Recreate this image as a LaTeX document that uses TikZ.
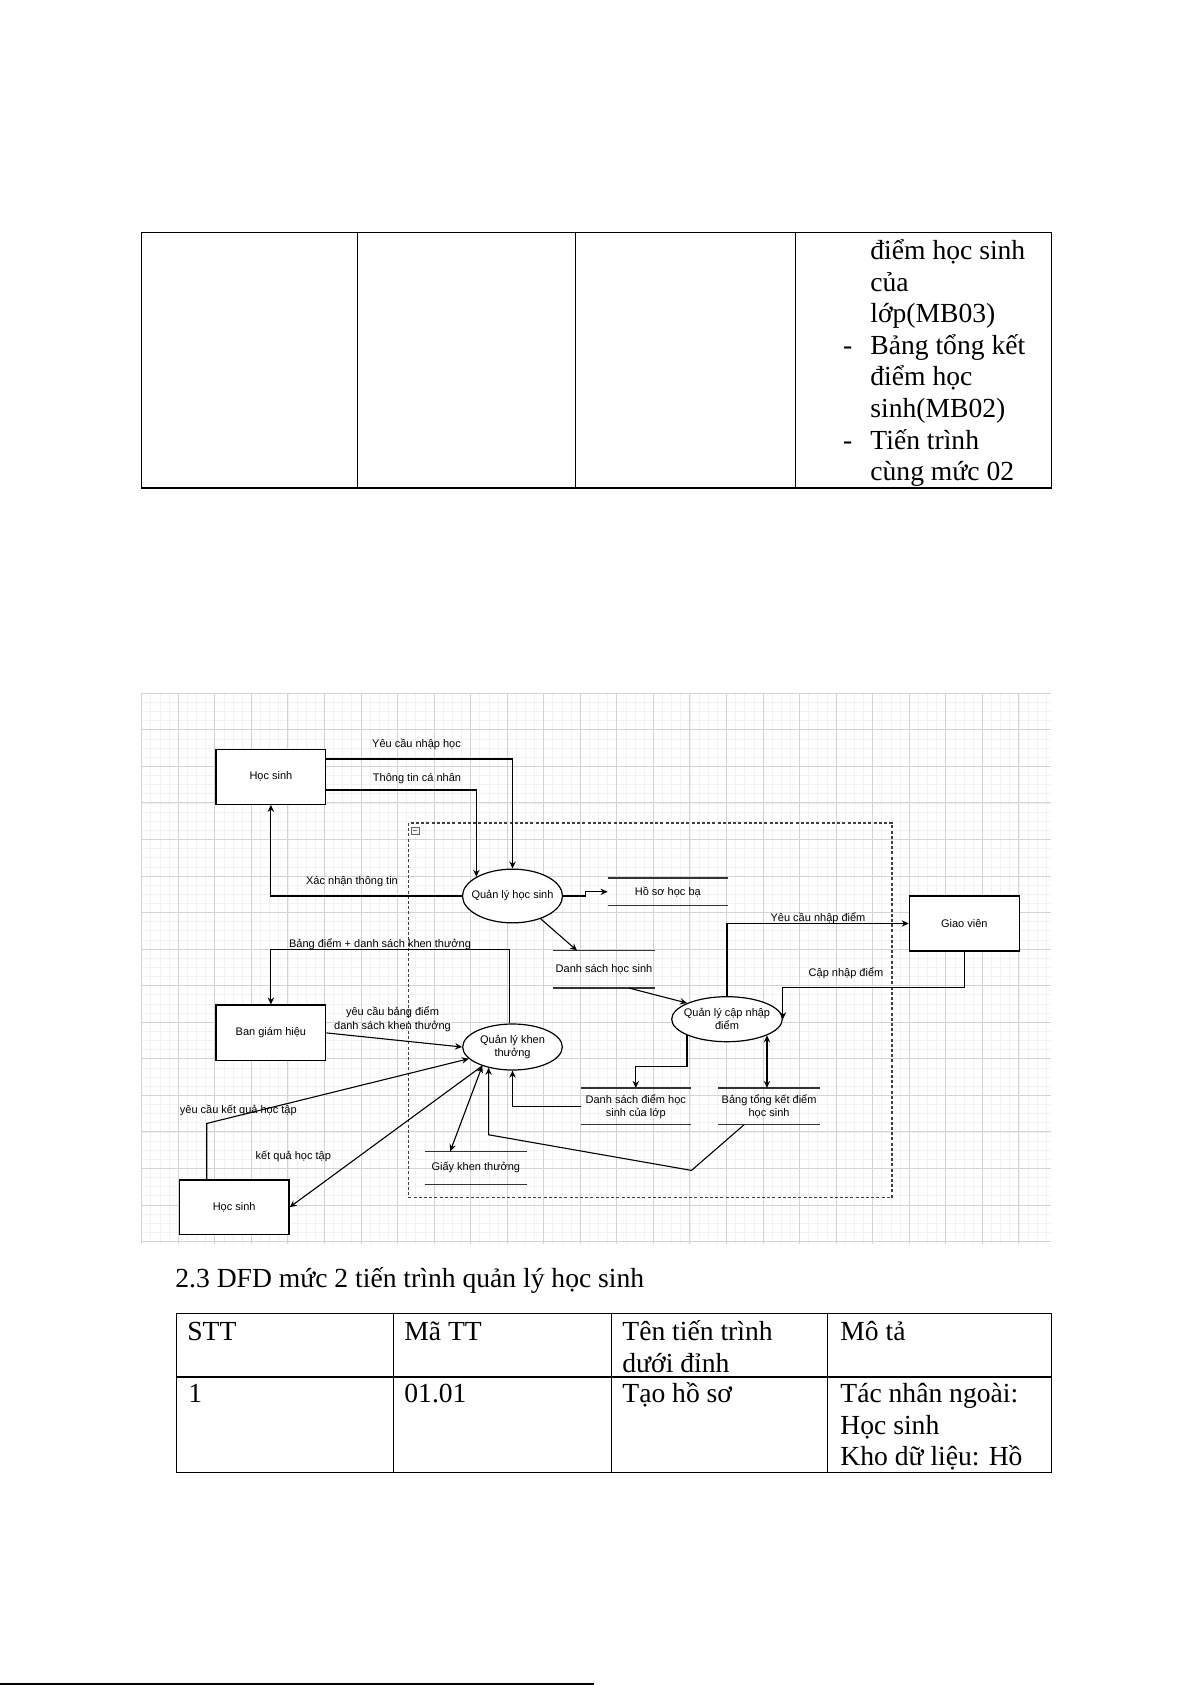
\documentclass[tikz,border=0pt]{standalone}
\usepackage{fontspec}
\setmainfont{Liberation Serif}
\newfontfamily\diafont{Liberation Sans}
\usetikzlibrary{calc, positioning, shapes.geometric, arrows.meta}
\newcommand{\cellstrut}{\rule{0pt}{14pt}}

\tikzset{
  ent/.style={draw, fill=white, line width=0.6pt, minimum width=54.85pt, minimum height=27.5pt, inner sep=0pt, font=\diafont\fontsize{5.5}{6.6}\selectfont},
  proc/.style={draw, ellipse, fill=white, line width=0.6pt, inner xsep=-3pt, inner ysep=0pt, align=center, font=\diafont\fontsize{5.5}{6.6}\selectfont},
  store/.style={inner sep=0pt, align=center, font=\diafont\fontsize{5.5}{6.6}\selectfont},
  storeline/.style={line width=0.6pt, draw=black!80},
  flow/.style={-{Stealth[length=3.5pt,width=3.2pt]}, line width=0.55pt},
  both/.style={{Stealth[length=3.5pt,width=3.2pt]}-{Stealth[length=3.5pt,width=3.2pt]}, line width=0.55pt},
  lbl/.style={inner sep=0pt, font=\diafont\fontsize{5.5}{6.7}\selectfont},
  grp/.style={draw=black!75, line width=0.6pt, dash pattern=on 1.5pt off 1.1pt},
  icon/.style={draw=black!60, line width=0.4pt},
  minorgrid/.style={draw=black!5, line width=0.4pt},
  majorgrid/.style={draw=black!17, line width=0.5pt},
  tab/.style={line width=0.6pt},
  cell/.style={anchor=north west, inner sep=0pt, align=left, font={\fontsize{13.8}{15.8}\selectfont\lineskiplimit=-20pt}}
}

\begin{document}
\begin{tikzpicture}[x=0.5pt, y=-0.5pt]
\useasboundingbox (0,0) rectangle (1191,1685);

% end of the table from the page before
\draw[tab] (141.5,232.5) rectangle (1051.5,488);
\draw[tab] (357.5,232.5) -- (357.5,488) (575.5,232.5) -- (575.5,488) (795.5,232.5) -- (795.5,488);
\node[cell] (desc) at (870,231) {\cellstrut điểm học sinh\\ của\\ lớp(MB03)\\ \llap{-\hspace{9pt}}Bảng tổng kết\\ điểm học\\ sinh(MB02)\\ \llap{-\hspace{9pt}}Tiến trình\\ cùng mức 02};

% grid of the drawing
\foreach \k in {0,...,99} \draw[minorgrid] ({141.7+\k*9.1375},693.3) -- ({141.7+\k*9.1375},1243.5);
\foreach \k in {0,...,60} \draw[minorgrid] (141.7,{693.3+\k*9.1375}) -- (1051.4,{693.3+\k*9.1375});
\foreach \k in {0,...,24} \draw[majorgrid] ({141.7+\k*36.55},693.3) -- ({141.7+\k*36.55},1243.5);
\foreach \k in {0,...,15} \draw[majorgrid] (141.7,{693.3+\k*36.55}) -- (1051.4,{693.3+\k*36.55});

% process group
\draw[grp] (408.5,823) rectangle (892,1197.5);
\draw[icon, fill=black!5] (411.8,827.3) rectangle (418.9,834.3);
\draw[icon] (413.3,830.8) -- (417.4,830.8);

% external entities
\node[ent] (hsA) at (270.9,776.8) {Học sinh};
\node[ent, minimum height=27.85pt] (bgh) at (270.9,1032.9) {Ban giám hiệu};
\node[ent, minimum height=27.15pt] (hsB) at (234.2,1207.2) {Học sinh};
\node[ent, minimum width=55pt] (gv) at (964.3,923.5) {Giao viên};

% processes
\node[proc, minimum width=50pt, minimum height=26.85pt] (qlhs) at (512.5,896) {Quản lý học sinh};
\node[proc, minimum width=55.3pt, minimum height=22.5pt] (qlcn) at (727,1019.2) {Quản lý cập nhập\\ điểm};
\node[proc, minimum width=49.8pt, minimum height=23pt] (qlkt) at (512.5,1047) {Quản lý khen\\ thưởng};

% data stores
\node[store, minimum width=59.85pt, minimum height=13.5pt] (hsb) at (667.8,891.8) {Hồ sơ học bạ};
\node[store, minimum width=51pt, minimum height=18.35pt] (dshs) at (604,969.3) {Danh sách học sinh};
\node[store, minimum width=54.85pt, minimum height=18pt] (dsd) at (635.8,1106.3) {Danh sách điểm học\\ sinh của lớp};
\node[store, minimum width=50.65pt, minimum height=18pt, right=13.5pt of dsd] (btk) {Bảng tổng kết điểm\\ học sinh};
\node[store, minimum width=50.85pt, minimum height=16.15pt] (gkt) at (475.8,1167.8) {Giấy khen thưởng};
\draw[storeline] (hsb.north west) -- (hsb.north east) (hsb.south west) -- (hsb.south east);
\draw[storeline] (dshs.north west) -- (dshs.north east) (dshs.south west) -- (dshs.south east);
\draw[storeline] (dsd.north west) -- (dsd.north east) (dsd.south west) -- (dsd.south east);
\draw[storeline] (btk.north west) -- (btk.north east) (btk.south west) -- (btk.south east);
\draw[storeline] (gkt.north west) -- (gkt.north east) (gkt.south west) -- (gkt.south east);

% flows
\draw[flow] ([yshift=8.9pt]hsA.east) -| (qlhs.north);
\draw[flow] ([yshift=-6.6pt]hsA.east) -| (qlhs.152);
\draw[flow] (qlhs.west) -| (hsA.south);
\draw[flow] (qlhs.east) -- ++(22,0) |- (hsb.west);
\draw[flow] (qlhs.-39) -- ([xshift=12.2pt]dshs.north west);
\draw[flow] ([xshift=38.2pt]dshs.south west) -- (qlcn.158);
\draw[flow] (qlcn.north) |- (gv.west);
\draw[flow] (gv.south) -- ++(0,36.3) -| (qlcn.east);
\draw[flow] (qlcn.202) -- ++(0,30.7) -| (dsd.north);
\draw[both] (qlcn.-22) -- (qlcn.-22 |- btk.north);
\draw[flow] (dsd.west) -| (qlkt.south);
\draw[flow] ([xshift=-12.5pt]btk.south) -- ++(-52.6,45.7) -- ($(qlkt.221)+(0,67)$) -- (qlkt.221);
\draw[both] (qlkt.212) -- ([xshift=12.85pt]gkt.north west);
\draw[flow] (qlkt.212) -- (hsB.east);
\draw[flow] (bgh.east) -- (qlkt.west);
\draw[flow] (qlkt.98) -- ++(0,-74) -| (bgh.north);
\draw[flow] ([xshift=-13.75pt]hsB.north) -- ++(0,-56) -- (qlkt.195);

% flow labels
\node[lbl] (lYCNH) at (416.5,744) {Yêu cầu nhập học};
\node[lbl] (lTTCN) at (417,779) {Thông tin cá nhân};
\node[lbl] (lXNTT) at (352,881.5) {Xác nhận thông tin};
\node[lbl] (lBD) at (380,944) {Bảng điểm + danh sách khen thưởng};
\node[lbl, align=center] (lYCBD) at (392.5,1019) {yêu cầu bảng điểm\\ danh sách khen thưởng};
\node[lbl] (lYCND) at (818,917.7) {Yêu cầu nhập điểm};
\node[lbl] (lCND) at (846,973.3) {Cập nhập điểm};
\node[lbl] (lYCKQ) at (238.3,1110.7) {yêu cầu kết quả học tập};
\node[lbl] (lKQ) at (293.3,1156) {kết quả học tập};

% caption and next table
\node[anchor=base west, inner sep=0pt, font=\fontsize{13.8}{15.8}\selectfont] (cap) at (175,1287) {2.3 DFD mức 2 tiến trình quản lý học sinh};
\draw[tab] (176.3,1313.7) rectangle (1051.4,1472.8);
\draw[tab] (176.3,1377) -- (1051.4,1377);
\draw[tab] (393.5,1313.7) -- (393.5,1472.8) (611.7,1313.7) -- (611.7,1472.8) (827.8,1313.7) -- (827.8,1472.8);
\node[cell] (h1) at (187,1312) {\cellstrut STT};
\node[cell] (h2) at (404,1312) {\cellstrut Mã TT};
\node[cell] (h3) at (622,1312) {\cellstrut Tên tiến trình\\ dưới đỉnh};
\node[cell] (h4) at (840,1312) {\cellstrut Mô tả};
\node[cell] (r1) at (188,1374) {\cellstrut 1};
\node[cell] (r2) at (404,1374) {\cellstrut 01.01};
\node[cell] (r3) at (622,1374) {\cellstrut Tạo hồ sơ};
\node[cell] (r4) at (840,1374) {\cellstrut Tác nhân ngoài:\\ Học sinh\\ Kho dữ liệu: Hồ};

% footnote rule
\draw[line width=0.6pt] (0,1684) -- (594,1684);
\end{tikzpicture}
\end{document}
